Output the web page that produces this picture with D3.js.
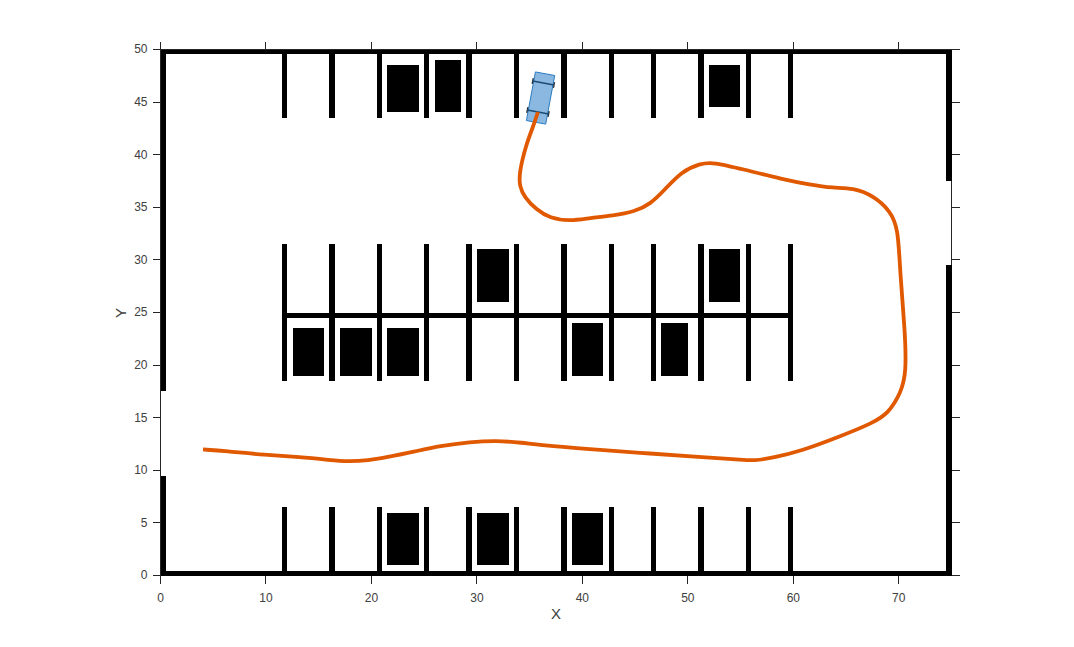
<!DOCTYPE html>
<html>
<head>
<meta charset="utf-8">
<script src="https://cdn.jsdelivr.net/npm/d3@7"></script>
<style>
  html, body { margin: 0; background: #fff; }
  svg { display: block; }
  text { font-family: "Liberation Sans", Arial, sans-serif; fill: #404040; }
</style>
</head>
<body>
<script>
let xTicks = [0, 10, 20, 30, 40, 50, 60, 70]
let yTicks = [0, 5, 10, 15, 20, 25, 30, 35, 40, 45, 50]

// parking stall dividers: left edge of each, all 0.5 wide
let stallX = [11.5, 16, 20.5, 25, 29, 33.5, 38, 42.5, 46.5, 51, 55.5, 59.5]
let stallRows = [[0, 6.5], [18.5, 25], [25, 31.5], [43.5, 50]]

// [x0, x1, y0, y1]
let walls = [
  [0, 75, 49.55, 50],
  [0, 75, 0, 0.45],
  [0, 0.5, 0, 9.5],
  [0, 0.5, 17.5, 50],
  [74.5, 75, 0, 29.5],
  [74.5, 75, 37.5, 50],
  [11.5, 60, 24.5, 25]
]
let parkedCars = [
  [21.5, 24.5, 44.05, 48.5],
  [26, 28.5, 44.05, 49],
  [52, 54.95, 44.5, 48.5],
  [30, 33, 26, 31],
  [52, 54.95, 26, 31],
  [12.55, 15.5, 19, 23.5],
  [17, 20.05, 19, 23.5],
  [21.5, 24.5, 19, 23.5],
  [39, 42, 19, 24],
  [47.5, 50, 19, 24],
  [21.5, 24.5, 1, 5.95],
  [30, 33, 1, 5.95],
  [39, 42, 1, 5.95]
]

let pathX = [4.03, 6.12, 9.91, 13.23, 16.07, 17.68, 19.67, 21.76, 24.13, 26.5, 29.35, 31.88, 34.09, 36.93, 41.67, 46.41, 51.15, 54.94, 56.37, 58.07, 60.63, 64.42, 67.55, 69.0, 70.2, 70.72, 70.59, 70.12, 69.95, 69.2, 67.6, 65.66, 63.76, 61.58, 59.02, 55.23, 52.38, 51.15, 49.4, 47.83, 46.41, 44.98, 42.9, 40.72, 38.82, 36.93, 35.6, 34.5, 34.05, 34.0, 34.65, 35.32, 35.79]
let pathY = [11.98, 11.83, 11.45, 11.26, 10.98, 10.82, 10.93, 11.29, 11.79, 12.31, 12.69, 12.84, 12.64, 12.31, 11.93, 11.6, 11.26, 11.03, 10.9, 11.2, 11.79, 13.21, 14.5, 15.4, 17.35, 19.25, 23.34, 28.75, 33.0, 34.65, 36.1, 36.85, 36.83, 37.15, 37.66, 38.61, 39.3, 39.15, 38.4, 36.69, 35.27, 34.6, 34.2, 33.98, 33.68, 33.95, 34.8, 35.98, 36.95, 38.26, 40.92, 42.63, 44.06]

// vehicle pose and dimensions
let vehiclePose = [35.79, 44.06, 79.5]
let vehicleLength = 4.7, vehicleWidth = 1.86, wheelbase = 2.8, rearOverhang = 1

let width = 1074, height = 647
let x = d3.scaleLinear().domain([0, 75]).range([160.5, 951.5])
let y = d3.scaleLinear().domain([0, 50]).range([575.5, 49.5])

let svg = d3.select('body').append('svg').attr('width', width).attr('height', height)

let addAxis = (axis, tx, ty) => {
  let g = svg.append('g')
    .attr('transform', `translate(${tx},${ty})`)
    .attr('shape-rendering', 'crispEdges')
    .call(axis.offset(0).tickSizeOuter(0).tickSizeInner(8))
  g.selectAll('path, line').attr('stroke', '#262626')
  g.selectAll('text').style('font-size', '12px').attr('font-family', null)
  g.attr('font-family', null).attr('font-size', null)
  return g
}

addAxis(d3.axisBottom(x).tickValues(xTicks).tickFormat(d3.format('d')).tickPadding(10), 0, 575.5)
addAxis(d3.axisLeft(y).tickValues(yTicks).tickFormat(d3.format('d')).tickPadding(5), 160.5, 0)
addAxis(d3.axisTop(x).tickValues(xTicks).tickFormat(''), 0, 49.5)
addAxis(d3.axisRight(y).tickValues(yTicks).tickFormat(''), 951.5, 0)

svg.append('text').text('X')
  .attr('x', 556).attr('y', 619).attr('text-anchor', 'middle').style('font-size', '15px')
svg.append('text').text('Y')
  .attr('transform', 'translate(126,313) rotate(-90)').attr('text-anchor', 'middle').style('font-size', '15px')

let stallRects = stallRows.flatMap(r => stallX.map(sx => [sx, sx + 0.5, r[0], r[1]]))
let solid = walls.concat(stallRects, parkedCars)

svg.append('g').attr('shape-rendering', 'crispEdges')
  .selectAll('rect').data(solid).join('rect')
  .attr('x', d => x(d[0]))
  .attr('width', d => x(d[1]) - x(d[0]))
  .attr('y', d => y(d[3]))
  .attr('height', d => y(d[2]) - y(d[3]))
  .attr('fill', '#000')

// maps vehicle-frame coordinates (along, across) to pixels
let heading = vehiclePose[2] * Math.PI / 180
let toPx = (a, c) => [
  x(vehiclePose[0] + a * Math.cos(heading) - c * Math.sin(heading)),
  y(vehiclePose[1] + a * Math.sin(heading) + c * Math.cos(heading))
]
let poly = pts => pts.map(p => toPx(p[0], p[1]).join(',')).join(' ')

let halfW = vehicleWidth / 2
let back = -rearOverhang, front = vehicleLength - rearOverhang
let car = svg.append('g')

// wheels stick out just past the body on both axles
let wheelLen = 0.55, wheelW = 0.14
let wheels = [0, wheelbase].flatMap(a => [-1, 1].map(s => [a, s * (halfW + 0.02)]))
car.selectAll('polygon.wheel').data(wheels).join('polygon')
  .attr('class', 'wheel')
  .attr('points', d => poly([
    [d[0] - wheelLen / 2, d[1] - wheelW], [d[0] + wheelLen / 2, d[1] - wheelW],
    [d[0] + wheelLen / 2, d[1] + wheelW], [d[0] - wheelLen / 2, d[1] + wheelW]
  ]))
  .attr('fill', '#333')

car.append('polygon')
  .attr('points', poly([[back, -halfW], [front, -halfW], [front, halfW], [back, halfW]]))
  .attr('fill', '#8ab8e0').attr('stroke', '#2c7cc0').attr('stroke-width', 1)

car.selectAll('line').data([0, wheelbase]).join('line')
  .each(function (a) {
    let p0 = toPx(a, -halfW - 0.1), p1 = toPx(a, halfW + 0.1)
    d3.select(this).attr('x1', p0[0]).attr('y1', p0[1]).attr('x2', p1[0]).attr('y2', p1[1])
  })
  .attr('stroke', '#1c4a72').attr('stroke-width', 1.6)

let line = d3.line()
  .x(i => x(pathX[i]))
  .y(i => y(pathY[i]))
  .curve(d3.curveBasis)

svg.append('path')
  .attr('d', line(d3.range(pathX.length)))
  .attr('fill', 'none')
  .attr('stroke', '#e05800')
  .attr('stroke-width', 3.8)
</script>
</body>
</html>
